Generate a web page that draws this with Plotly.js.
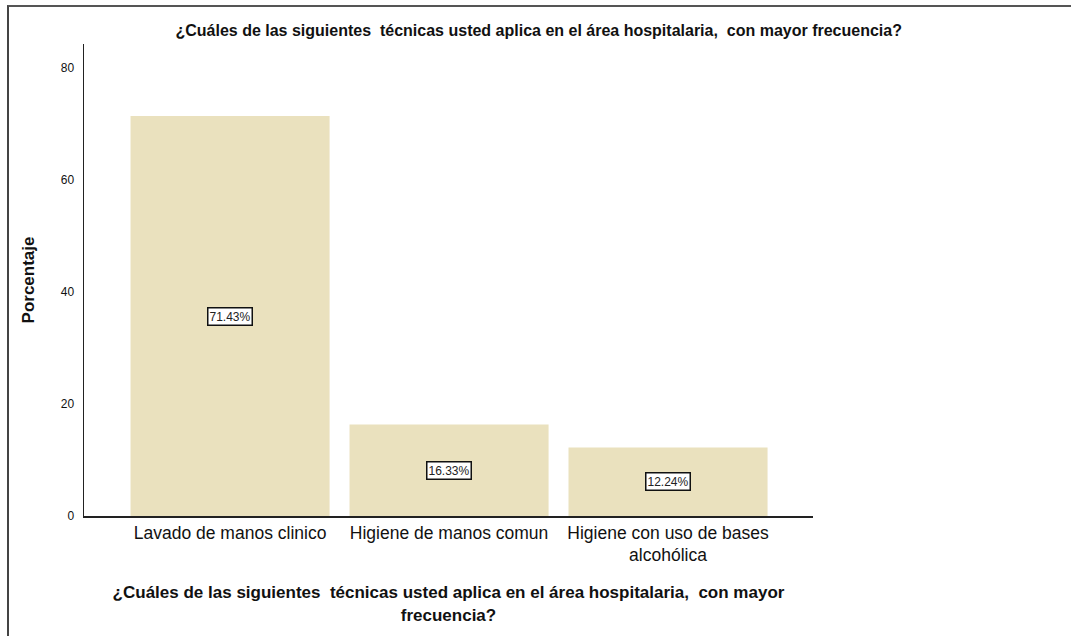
<!DOCTYPE html>
<html>
<head>
<meta charset="utf-8">
<script src="https://cdn.plot.ly/plotly-3.0.1.min.js"></script>
<style>
html,body{margin:0;padding:0;background:#fff;}
#wrap{position:relative;width:1071px;height:636px;}
#chart{width:1071px;height:636px;}
#frame{position:absolute;left:7px;top:5px;right:0;bottom:0;border-top:2px solid #555;border-left:2px solid #444;pointer-events:none;}
</style>
</head>
<body>
<div id="wrap"><div id="chart"></div><div id="frame"></div></div>
<script>
const categories = ["Lavado de manos clinico", "Higiene de manos comun", "Higiene con uso de bases<br>alcohólica"];
const values = [71.43, 16.33, 12.24];
const valueLabels = ["71.43%", "16.33%", "12.24%"];
const yTicks = [0, 20, 40, 60, 80];
const titleText = "¿Cuáles de las siguientes  técnicas usted aplica en el área hospitalaria,  con mayor frecuencia?";
const xTitleText = "¿Cuáles de las siguientes  técnicas usted aplica en el área hospitalaria,  con mayor<br>frecuencia?";
const yTitleText = "Porcentaje";

const FONT = "'Liberation Sans Narrow', 'Arial Narrow', Arial, sans-serif";
const xs = categories.map((c, i) => i);

const trace = {
  type: 'bar',
  x: xs,
  y: values,
  width: 0.909,
  marker: {color: '#EAE1BE', line: {width: 0}},
  hoverinfo: 'none'
};

const annotations = values.map((v, i) => ({
  x: xs[i], y: v / 2, xref: 'x', yref: 'y',
  text: valueLabels[i], showarrow: false,
  font: {family: FONT, size: 12, color: '#222'},
  bgcolor: '#fff', bordercolor: '#111', borderwidth: 1.5, borderpad: 1
}));

const layout = {
  width: 1071, height: 636,
  margin: {l: 84, r: 258, t: 44, b: 120},
  paper_bgcolor: '#fff', plot_bgcolor: '#fff',
  showlegend: false,
  font: {family: FONT, color: '#111'},
  title: {text: '<b>' + titleText + '</b>', font: {family: FONT, size: 16, color: '#111'},
          x: 0.503, xref: 'container', xanchor: 'center', y: 0.952, yref: 'container', yanchor: 'middle'},
  xaxis: {
    range: [-0.667, 2.662], tickmode: 'array', tickvals: xs, ticktext: categories,
    showgrid: false, zeroline: false, showline: true, linecolor: '#222', linewidth: 1.5,
    ticks: '', tickfont: {family: FONT, size: 17.5, color: '#111'}, layer: 'below traces',
    title: {text: '<b>' + xTitleText + '</b>', font: {family: FONT, size: 17, color: '#111'}, standoff: 22}
  },
  yaxis: {
    range: [0, 84.3], tickmode: 'array', tickvals: yTicks,
    showgrid: false, zeroline: false, showline: true, linecolor: '#222', linewidth: 1.5,
    ticks: '', ticklabelstandoff: 6, tickfont: {family: FONT, size: 12, color: '#111'}, layer: 'below traces',
    title: {text: '<b>' + yTitleText + '</b>', font: {family: FONT, size: 17, color: '#111'}, standoff: 22}
  },
  annotations: annotations
};

Plotly.newPlot('chart', [trace], layout, {displayModeBar: false, staticPlot: true});
</script>
</body>
</html>
